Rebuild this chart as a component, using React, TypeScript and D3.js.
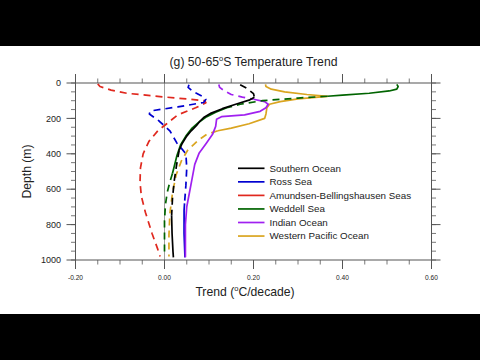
import React from "react";
import * as d3 from "d3";

// ---------- data ----------
const xTicks = [-0.2, 0, 0.2, 0.4, 0.6];
const xTickLabels = ["-0.20", "0.00", "0.20", "0.40", "0.60"];
const yTicks = [0, 200, 400, 600, 800, 1000];
const yTickLabels = ["0", "200", "400", "600", "800", "1000"];

const seriesNames = [
  "Southern Ocean",
  "Ross Sea",
  "Amundsen-Bellingshausen Seas",
  "Weddell Sea",
  "Indian Ocean",
  "Western Pacific Ocean",
];
const seriesColors = ["#000000", "#0000d0", "#e0281e", "#006400", "#a020f0", "#daa520"];

// sig[i] = 1 -> segment ending at point i is solid (significant), 0 -> dashed
const soDepth = [10, 30, 60, 80, 97, 120, 145, 170, 195, 215, 240, 270, 300, 340, 380, 450, 550, 650, 750, 850, 950, 985];
const soTrend = [0.170, 0.185, 0.200, 0.202, 0.190, 0.160, 0.130, 0.105, 0.088, 0.080, 0.072, 0.060, 0.050, 0.040, 0.033, 0.028, 0.022, 0.018, 0.016, 0.017, 0.019, 0.020];
const soSig = [0, 0, 0, 0, 1, 1, 1, 1, 1, 1, 1, 1, 1, 1, 1, 0, 0, 0, 0, 1, 1, 1];

const rsDepth = [10, 25, 50, 75, 92, 110, 135, 158, 175, 215, 270, 340, 375, 400, 480, 580, 680, 720, 850, 985];
const rsTrend = [0.055, 0.053, 0.065, 0.085, 0.093, 0.088, 0.030, -0.032, -0.034, -0.012, 0.012, 0.028, 0.040, 0.048, 0.050, 0.048, 0.045, 0.044, 0.044, 0.046];
const rsSig = [0, 0, 0, 0, 0, 0, 0, 0, 0, 0, 0, 0, 0, 0, 0, 0, 0, 1, 1, 1];

const abDepth = [5, 20, 40, 58, 77, 92, 100, 112, 140, 180, 230, 270, 330, 400, 480, 560, 640, 730, 850, 940, 980];
const abTrend = [-0.150, -0.145, -0.120, -0.085, -0.010, 0.060, 0.090, 0.093, 0.070, 0.030, 0.005, -0.015, -0.035, -0.048, -0.054, -0.055, -0.052, -0.043, -0.028, -0.015, -0.010];
const abSig = [0, 0, 0, 0, 0, 0, 0, 0, 0, 0, 0, 0, 0, 0, 0, 0, 0, 0, 0, 0, 0];

const wsDepth = [8, 20, 35, 45, 58, 68, 75, 85, 100, 120, 140, 165, 190, 220, 255, 300, 350, 410, 470, 510, 560, 620, 690, 780, 880, 980];
const wsTrend = [0.522, 0.525, 0.522, 0.505, 0.460, 0.400, 0.366, 0.300, 0.220, 0.170, 0.140, 0.115, 0.095, 0.078, 0.062, 0.048, 0.036, 0.028, 0.022, 0.018, 0.012, 0.006, 0.002, 0.000, 0.000, 0.000];
const wsSig = [1, 1, 1, 1, 1, 1, 1, 0, 0, 0, 0, 1, 1, 1, 1, 1, 1, 1, 1, 1, 0, 0, 0, 0, 0, 0];

const ioDepth = [8, 25, 45, 65, 80, 92, 105, 120, 140, 160, 180, 190, 205, 245, 290, 340, 395, 460, 540, 620, 700, 800, 900, 985];
const ioTrend = [0.122, 0.124, 0.135, 0.150, 0.175, 0.200, 0.225, 0.233, 0.228, 0.215, 0.180, 0.128, 0.117, 0.115, 0.108, 0.094, 0.078, 0.068, 0.062, 0.056, 0.050, 0.047, 0.047, 0.047];
const ioSig = [0, 0, 0, 0, 0, 0, 1, 1, 1, 1, 1, 1, 1, 1, 1, 1, 1, 1, 1, 1, 1, 1, 1, 1];

const wpDepth = [8, 20, 35, 50, 65, 76, 90, 105, 120, 140, 175, 200, 230, 255, 270, 290, 325, 380, 440, 520, 620, 740, 860, 980];
const wpTrend = [0.227, 0.228, 0.240, 0.270, 0.320, 0.366, 0.300, 0.260, 0.236, 0.230, 0.228, 0.225, 0.190, 0.150, 0.120, 0.095, 0.075, 0.052, 0.038, 0.026, 0.018, 0.012, 0.010, 0.010];
const wpSig = [1, 1, 1, 1, 1, 1, 1, 1, 1, 1, 1, 1, 1, 1, 1, 0, 0, 0, 0, 0, 0, 0, 0, 0];

const allDepth = [soDepth, rsDepth, abDepth, wsDepth, ioDepth, wpDepth];
const allTrend = [soTrend, rsTrend, abTrend, wsTrend, ioTrend, wpTrend];
const allSig = [soSig, rsSig, abSig, wsSig, ioSig, wpSig];
const drawOrder = [2, 1, 5, 4, 3, 0];

// ---------- layout ----------
const W = 480;
const H = 360;
const FONT = "'Liberation Sans', Arial, Helvetica, sans-serif";
const AXIS = "#555555";

const x = d3.scaleLinear().domain([-0.2, 0.6]).range([75.5, 431.5]);
const y = d3.scaleLinear().domain([0, 1000]).range([83, 260]);

type Run = { solid: boolean; pts: [number, number][] };

function buildRuns(depth: number[], trend: number[], sig: number[]): Run[] {
  const runs: Run[] = [];
  for (let i = 1; i < depth.length; i++) {
    const solid = sig[i] === 1;
    const p0: [number, number] = [trend[i - 1], depth[i - 1]];
    const p1: [number, number] = [trend[i], depth[i]];
    const last = runs[runs.length - 1];
    if (last && last.solid === solid) last.pts.push(p1);
    else runs.push({ solid, pts: [p0, p1] });
  }
  return runs;
}

const line = d3
  .line<[number, number]>()
  .x((d) => x(d[0]))
  .y((d) => y(d[1]));

export default function App() {
  const minorX = d3.range(-0.2, 0.6001, 0.05);
  const minorY = d3.range(0, 1000.1, 50);
  const x0 = x.range()[0];
  const x1 = x.range()[1];
  const y0 = y.range()[0];
  const y1 = y.range()[1];
  const major = 9;
  const minor = 4.5;

  const legX0 = 238;
  const legX1 = 264.5;
  const legTextX = 269.5;
  const legY0 = 168.3;
  const legDy = 13.55;

  return (
    <div style={{ position: "absolute", left: 0, top: 0 }}>
      <svg width={W} height={H} viewBox={`0 0 ${W} ${H}`} style={{ display: "block" }}>
        <rect x={0} y={0} width={W} height={H} fill="#000" />
        <rect x={0} y={46} width={W} height={268} fill="#fff" />

        {/* zero line */}
        <line x1={x(0)} x2={x(0)} y1={y0} y2={y1} stroke="#a0a0a0" strokeWidth={1} />

        {/* series */}
        {drawOrder.map((si) =>
          buildRuns(allDepth[si], allTrend[si], allSig[si]).map((r, k) => (
            <path
              key={`${si}-${k}`}
              d={line(r.pts) || ""}
              fill="none"
              stroke={seriesColors[si]}
              strokeWidth={1.7}
              strokeDasharray={r.solid ? undefined : "7,5"}
              strokeLinejoin="round"
            />
          ))
        )}

        {/* frame */}
        <rect x={x0} y={y0} width={x1 - x0} height={y1 - y0} fill="none" stroke={AXIS} strokeWidth={1} />

        {/* x ticks (top and bottom, outward) */}
        {minorX.map((v, i) => (
          <g key={`mx${i}`}>
            <line x1={x(v)} x2={x(v)} y1={y0} y2={y0 - minor} stroke={AXIS} strokeWidth={0.8} />
            <line x1={x(v)} x2={x(v)} y1={y1} y2={y1 + minor} stroke={AXIS} strokeWidth={0.8} />
          </g>
        ))}
        {xTicks.map((v, i) => (
          <g key={`x${i}`}>
            <line x1={x(v)} x2={x(v)} y1={y0} y2={y0 - major} stroke={AXIS} strokeWidth={1} />
            <line x1={x(v)} x2={x(v)} y1={y1} y2={y1 + major} stroke={AXIS} strokeWidth={1} />
            <text x={x(v)} y={279.5} fontFamily={FONT} fontSize={6.6} textAnchor="middle" fill="#222">
              {xTickLabels[i]}
            </text>
          </g>
        ))}

        {/* y ticks (left and right, outward) */}
        {minorY.map((v, i) => (
          <g key={`my${i}`}>
            <line x1={x0} x2={x0 - minor} y1={y(v)} y2={y(v)} stroke={AXIS} strokeWidth={0.8} />
            <line x1={x1} x2={x1 + minor} y1={y(v)} y2={y(v)} stroke={AXIS} strokeWidth={0.8} />
          </g>
        ))}
        {yTicks.map((v, i) => (
          <g key={`y${i}`}>
            <line x1={x0} x2={x0 - major} y1={y(v)} y2={y(v)} stroke={AXIS} strokeWidth={1} />
            <line x1={x1} x2={x1 + major} y1={y(v)} y2={y(v)} stroke={AXIS} strokeWidth={1} />
            <text x={61} y={y(v) + 3.2} fontFamily={FONT} fontSize={9} textAnchor="end" fill="#222">
              {yTickLabels[i]}
            </text>
          </g>
        ))}

        {/* title */}
        <text x={253.5} y={66} fontFamily={FONT} fontSize={12.2} textAnchor="middle" fill="#222">
          (g) 50-65
          <tspan fontSize={7.5} dy={-5}>o</tspan>
          <tspan dy={5}>S Temperature Trend</tspan>
        </text>

        {/* axis labels */}
        <text x={245} y={296} fontFamily={FONT} fontSize={12.2} textAnchor="middle" fill="#222">
          Trend (
          <tspan fontSize={7.5} dy={-5}>o</tspan>
          <tspan dy={5}>C/decade)</tspan>
        </text>
        <text
          transform={`translate(31,${(y0 + y1) / 2}) rotate(-90)`}
          fontFamily={FONT}
          fontSize={12.2}
          textAnchor="middle"
          fill="#222"
        >
          Depth (m)
        </text>

        {/* legend */}
        {seriesNames.map((name, i) => (
          <g key={`leg${i}`}>
            <line
              x1={legX0}
              x2={legX1}
              y1={legY0 + i * legDy}
              y2={legY0 + i * legDy}
              stroke={seriesColors[i]}
              strokeWidth={1.7}
            />
            <text x={legTextX} y={legY0 + i * legDy + 3.4} fontFamily={FONT} fontSize={9.8} fill="#222">
              {name}
            </text>
          </g>
        ))}
      </svg>
    </div>
  );
}
